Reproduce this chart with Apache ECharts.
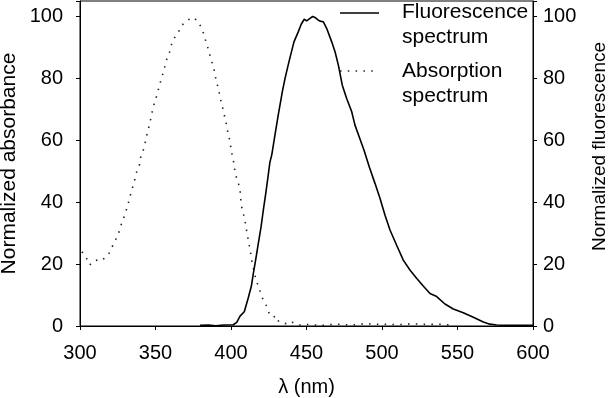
<!DOCTYPE html>
<html>
<head>
<meta charset="utf-8">
<script src="https://cdn.jsdelivr.net/npm/echarts@6/dist/echarts.min.js"></script>
<style>
  html, body { margin: 0; padding: 0; background: #fff; }
  #chart { width: 608px; height: 398px; }
</style>
</head>
<body>
<div id="chart"></div>
<script>
// absorption spectrum (dotted), wavelength in nm / normalized value
const absWl = [301.3, 304.2, 306.4, 309.3, 312.4, 313.7, 315.0, 317.0, 319.4, 321.6, 323.8, 325.6, 327.0, 328.3, 330.0,
  331.6, 332.7, 334.0, 335.3, 336.6, 337.7, 339.5, 340.2, 342.4, 343.5, 344.6, 345.9, 347.0, 348.1, 349.4,
  351.0, 352.3, 353.6, 355.0, 356.3, 357.6, 359.4, 360.7, 362.7, 365.1, 366.9, 369.3, 372.0, 375.0, 377.5,
  380.1, 382.1, 383.4, 385.0, 386.3, 387.9, 389.2, 390.1, 391.4, 392.5, 393.6, 394.9, 396.0, 397.2, 398.0,
  399.3, 400.0, 400.9, 402.0, 402.6, 403.6, 404.8, 406.0, 406.4, 406.8, 408.0, 409.1, 410.0, 410.8, 411.7,
  412.6, 413.5, 414.1, 415.7, 416.3, 418.1, 419.7, 421.0, 423.0, 423.8, 425.8, 428.5, 429.8, 432, 435,
  439, 440.5, 445, 450, 460, 470, 480, 490, 495, 500, 510, 520, 530, 540, 545];
const absVal = [24.0, 22.0, 19.7, 21.0, 21.5, 21.8, 21.3, 22.4, 23.6, 25.9, 28.1, 30.0, 32.4, 34.0, 36.5,
  38.8, 41.2, 43.3, 45.7, 47.8, 50.1, 52.2, 54.6, 57.5, 60.0, 62.5, 64.8, 67.3, 69.8, 72.3,
  74.7, 77.1, 79.4, 81.7, 84.0, 86.5, 88.6, 91.1, 93.2, 94.9, 96.8, 98.1, 99.0, 99.7, 98.7,
  96.7, 94.2, 91.8, 89.4, 87.0, 84.5, 82.0, 79.5, 77.1, 74.6, 72.2, 69.7, 67.2, 64.6, 62.3,
  59.8, 57.3, 54.8, 52.4, 49.9, 48.0, 46.3, 43.9, 41.5, 39.0, 36.7, 34.4, 31.8, 29.5, 27.1,
  24.6, 22.2, 19.9, 17.3, 15.1, 13.0, 10.5, 8.8, 7.1, 5.9, 3.5, 3.3, 1.4, 1.7, 0.9,
  0.6, 1.2, 0.3, 0.5, 0.2, 0.6, 0.3, 0.8, 0.5, 0.6, 0.4, 0.7, 0.5, 0.6, 0.3];

// fluorescence spectrum (solid)
const fluoWl = [379.5, 385, 390, 395, 401.5, 403.8, 406.0, 408.8, 411.5, 413.5, 414.8, 416.3, 418.1, 419.9, 421.4,
  423.0, 424.5, 425.8, 427.0, 429.1, 431.3, 434.0, 435.8, 438.4, 441.7, 444.6, 446.5, 448.5, 450.1, 452.3,
  454.1, 455.6, 457.4, 458.9, 461.1, 463.4, 466.7, 468.9, 471.1, 473.7, 476.6, 479.9, 482.1, 485, 488.1,
  491.6, 495.4, 498.7, 502.0, 505.3, 509.7, 514.1, 518.5, 522.9, 527.3, 531.8, 536.2, 541.7, 547.2, 553.8,
  560.5, 567.1, 571.5, 575.9, 582.5, 600];
const fluoVal = [0.2, 0.3, 0.1, 0.3, 0.4, 1.2, 3.2, 4.6, 9.2, 12.9, 17.0, 21.3, 26.7, 32.0, 37.4,
  42.8, 48.2, 53.0, 55.3, 61.7, 68.2, 75.7, 80.0, 85.4, 91.8, 95.1, 97.5, 99.1, 98.6, 99.4,
  100, 99.7, 99.0, 98.5, 98.3, 96.1, 91.8, 88.6, 84.3, 77.8, 73.5, 69.3, 64.9, 61.0, 56.8,
  51.4, 46.0, 41.2, 35.8, 31.0, 26.1, 21.3, 18.1, 15.4, 12.9, 10.5, 9.5, 7.1, 5.5, 4.3,
  2.8, 1.3, 0.6, 0.3, 0.2, 0.2];

const legendLines = [['Fluorescence', 'spectrum'], ['Absorption', 'spectrum']];
const xTitle = 'λ (nm)';
const yTitleLeft = 'Normalized absorbance';
const yTitleRight = 'Normalized fluorescence';

const FONT = 'Liberation Sans, Arial, sans-serif';
const DOTS = [1.5, 6.3];

const pairs = (xs, ys) => xs.map((x, i) => [x, ys[i]]);

const chart = echarts.init(document.getElementById('chart'));

const yAxisBase = {
    type: 'value', min: 0, max: 105, interval: 20,
    nameLocation: 'middle', nameMoveOverlap: false,
    axisLine: { show: true, lineStyle: { color: '#000', width: 1 } },
    axisTick: { show: true, inside: false, length: 4, lineStyle: { color: '#000' } },
    axisLabel: { fontFamily: FONT, fontSize: 20, color: '#000', formatter: v => (v % 20 === 0 ? v : '') },
    splitLine: { show: false }
};

const option = {
    animation: false,
    backgroundColor: '#fff',
    grid: { left: 80, right: 75, top: 1, bottom: 72, outerBoundsMode: 'none', containLabel: false,
        show: true, borderColor: '#000', borderWidth: 1 },
    xAxis: {
        type: 'value', min: 300, max: 600, interval: 50,
        name: xTitle, nameLocation: 'middle', nameGap: 51, nameMoveOverlap: false,
        nameTextStyle: { fontFamily: FONT, fontSize: 20, color: '#000' },
        axisLine: { lineStyle: { color: '#000', width: 1 } },
        axisTick: { inside: false, length: 4, lineStyle: { color: '#000' } },
        axisLabel: { fontFamily: FONT, fontSize: 20, color: '#000', margin: 17 },
        splitLine: { show: false }
    },
    yAxis: [
        Object.assign({}, yAxisBase, { position: 'left', name: yTitleLeft, nameGap: 60,
            nameTextStyle: { fontFamily: FONT, fontSize: 21, color: '#000' },
            axisLabel: Object.assign({}, yAxisBase.axisLabel, { margin: 17 }) }),
        Object.assign({}, yAxisBase, { position: 'right', name: yTitleRight, nameGap: 57,
            nameTextStyle: { fontFamily: FONT, fontSize: 19, color: '#000', padding: [0, 0, 0, 34] },
            axisLabel: Object.assign({}, yAxisBase.axisLabel, { margin: 10 }) })
    ],
    series: [
        {
            name: 'Absorption spectrum', type: 'line', yAxisIndex: 0,
            data: pairs(absWl, absVal), symbol: 'none', smooth: false,
            lineStyle: { color: '#222', width: 1.6, type: DOTS }
        },
        {
            name: 'Fluorescence spectrum', type: 'line', yAxisIndex: 1,
            data: pairs(fluoWl, fluoVal), symbol: 'none', smooth: false,
            lineStyle: { color: '#000', width: 1.6 }
        }
    ],
    // legend drawn by hand: sample line + two-line label, like the original
    graphic: [
        { type: 'line', shape: { x1: 340, y1: 13, x2: 379, y2: 13 }, style: { stroke: '#000', lineWidth: 1.6 } },
        { type: 'text', left: 402, top: 0, style: { text: legendLines[0].join('\n'), font: '21px ' + FONT, fill: '#000', lineHeight: 25 } },
        { type: 'line', shape: { x1: 340, y1: 71, x2: 379, y2: 71 }, style: { stroke: '#222', lineWidth: 1.6, lineDash: DOTS } },
        { type: 'text', left: 402, top: 59, style: { text: legendLines[1].join('\n'), font: '21px ' + FONT, fill: '#000', lineHeight: 25 } }
    ]
};

chart.setOption(option);
</script>
</body>
</html>
